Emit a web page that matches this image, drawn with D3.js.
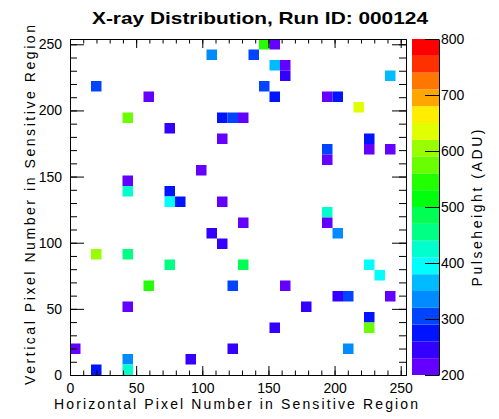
<!DOCTYPE html>
<html>
<head>
<meta charset="utf-8">
<script src="https://cdn.jsdelivr.net/npm/d3@7"></script>
<style>
  body { margin: 0; background: #fff; }
  text { font-family: "Liberation Sans", Arial, Helvetica, sans-serif; fill: #000; }
</style>
</head>
<body>
<svg id="chart" width="499" height="419"></svg>
<script>
// hit pixels: x bin, y bin (counted from the bottom), pulse height in ADU
const pixX = [13, 2, 7, 5, 9, 14, 15, 16, 14, 18, 19, 17, 19, 20, 20, 30, 18, 19, 24, 25,
              27, 28, 28, 24, 30, 12, 5, 5, 9, 9, 10, 14, 16, 13, 14, 2, 5, 9, 16, 24,
              24, 24, 25, 28, 7, 15, 5, 0, 15, 5, 5, 2, 11, 29, 20, 25, 26, 30, 22, 28,
              28, 19, 26];
const pixY = [30, 27, 26, 24, 23, 24, 24, 24, 22, 31, 31, 30, 29, 29, 28, 28, 27, 26, 26, 26,
              25, 22, 21, 21, 21, 19, 18, 17, 17, 16, 16, 16, 14, 13, 12, 11, 11, 10, 10, 20,
              15, 14, 13, 10, 8, 8, 6, 2, 2, 1, 0, 0, 1, 9, 8, 7, 7, 7, 6, 5,
              4, 4, 2];
const adu  = [335, 305, 215, 575, 245, 275, 305, 215, 215, 545, 215, 305, 365, 215, 245, 365, 305, 275, 215, 275,
              635, 275, 215, 305, 215, 215, 215, 425, 275, 395, 275, 215, 215, 245, 245, 605, 455, 455, 485, 215,
              425, 215, 335, 395, 545, 305, 215, 215, 245, 335, 425, 275, 245, 395, 215, 245, 305, 215, 245, 275,
              575, 245, 335];

const xTicks = [0, 50, 100, 150, 200, 250];
const yTicks = [0, 50, 100, 150, 200, 250];
const zTicks = [200, 300, 400, 500, 600, 700, 800];

const nBins = 32, axisMax = 254;
const zMin = 200, zMax = 800, nLevels = 20;

// ROOT "pretty" palette sampled at 20 contour levels
const levelColors = ['#6300ff', '#3300ff', '#0014ff', '#0044ff', '#008bff', '#00bbff', '#00fffc',
                     '#00ffcc', '#00ff85', '#00ff55', '#00ff0e', '#22ff00', '#69ff00', '#99ff00',
                     '#e0ff00', '#ffee00', '#ffa700', '#ff7700', '#ff3000', '#ff0000'];

const svg = d3.select('#chart');
const frameL = 70, frameR = 406, frameT = 39, frameB = 375;
const binW = axisMax / nBins;

const x = d3.scaleLinear().domain([0, axisMax]).range([frameL, frameR]);
const y = d3.scaleLinear().domain([0, axisMax]).range([frameB, frameT]);
const z = d3.scaleLinear().domain([zMin, zMax]).range([frameB, frameT]);

const levelOf = v => Math.max(0, Math.min(nLevels - 1, Math.floor((v - zMin) / (zMax - zMin) * nLevels)));

// cells
const cells = pixX.map((ix, i) => ({ ix, iy: pixY[i], v: adu[i] }));
svg.append('g').selectAll('rect')
  .data(cells)
  .join('rect')
  .attr('x', d => x(d.ix * binW))
  .attr('y', d => y((d.iy + 1) * binW))
  .attr('width', d => x((d.ix + 1) * binW) - x(d.ix * binW))
  .attr('height', d => y(d.iy * binW) - y((d.iy + 1) * binW))
  .attr('fill', d => levelColors[levelOf(d.v)]);

// axes, ticks inside the frame
const minor = d3.range(0, axisMax, 10);
function styleAxis(g) {
  g.selectAll('path, line').attr('stroke', '#000').attr('stroke-width', 1);
  g.selectAll('text').attr('font-size', 14).attr('fill', '#000');
}
svg.append('g').attr('transform', `translate(0,${frameB})`)
  .call(d3.axisBottom(x).tickValues(minor).tickSize(-4.5).tickSizeOuter(0).tickFormat(''))
  .call(styleAxis);
svg.append('g').attr('transform', `translate(0,${frameB})`)
  .call(d3.axisBottom(x).tickValues(xTicks).tickSize(-9).tickSizeOuter(0).tickPadding(8))
  .call(styleAxis);
svg.append('g').attr('transform', `translate(0,${frameT})`)
  .call(d3.axisTop(x).tickValues(minor).tickSize(-4.5).tickSizeOuter(0).tickFormat(''))
  .call(styleAxis);
svg.append('g').attr('transform', `translate(0,${frameT})`)
  .call(d3.axisTop(x).tickValues(xTicks).tickSize(-9).tickSizeOuter(0).tickFormat(''))
  .call(styleAxis);
svg.append('g').attr('transform', `translate(${frameL},0)`)
  .call(d3.axisLeft(y).tickValues(minor).tickSize(-7).tickSizeOuter(0).tickFormat(''))
  .call(styleAxis);
svg.append('g').attr('transform', `translate(${frameL},0)`)
  .call(d3.axisLeft(y).tickValues(yTicks).tickSize(-14).tickSizeOuter(0).tickPadding(8))
  .call(styleAxis);
svg.append('g').attr('transform', `translate(${frameR},0)`)
  .call(d3.axisRight(y).tickValues(minor).tickSize(-7).tickSizeOuter(0).tickFormat(''))
  .call(styleAxis);
svg.append('g').attr('transform', `translate(${frameR},0)`)
  .call(d3.axisRight(y).tickValues(yTicks).tickSize(-14).tickSizeOuter(0).tickFormat(''))
  .call(styleAxis);

// colour bar
const barX = 412, barW = 27;
const bands = d3.range(nLevels);
const step = (zMax - zMin) / nLevels;
svg.append('g').selectAll('rect')
  .data(bands)
  .join('rect')
  .attr('x', barX)
  .attr('y', d => z(zMin + (d + 1) * step))
  .attr('width', barW)
  .attr('height', d => z(zMin + d * step) - z(zMin + (d + 1) * step))
  .attr('fill', d => levelColors[d]);
svg.append('g').attr('transform', `translate(${barX + barW},0)`)
  .call(d3.axisRight(z).tickValues(zTicks).tickSize(-14).tickSizeOuter(0).tickPadding(2))
  .call(styleAxis);

// titles
svg.append('text')
  .attr('x', 260).attr('y', 24)
  .attr('text-anchor', 'middle')
  .attr('font-size', 17).attr('font-weight', 'bold')
  .attr('textLength', 336).attr('lengthAdjust', 'spacingAndGlyphs')
  .text('X-ray Distribution, Run ID: 000124');
svg.append('text')
  .attr('x', 236).attr('y', 409)
  .attr('text-anchor', 'middle')
  .attr('font-size', 14)
  .attr('textLength', 364).attr('lengthAdjust', 'spacing')
  .text('Horizontal Pixel Number in Sensitive Region');
svg.append('text')
  .attr('transform', 'translate(35,205) rotate(-90)')
  .attr('text-anchor', 'middle')
  .attr('font-size', 14)
  .attr('textLength', 360).attr('lengthAdjust', 'spacing')
  .text('Vertical Pixel Number in Sensitive Region');
svg.append('text')
  .attr('transform', 'translate(482,208) rotate(-90)')
  .attr('text-anchor', 'middle')
  .attr('font-size', 14)
  .attr('textLength', 157).attr('lengthAdjust', 'spacing')
  .text('Pulseheight (ADU)');
</script>
</body>
</html>
